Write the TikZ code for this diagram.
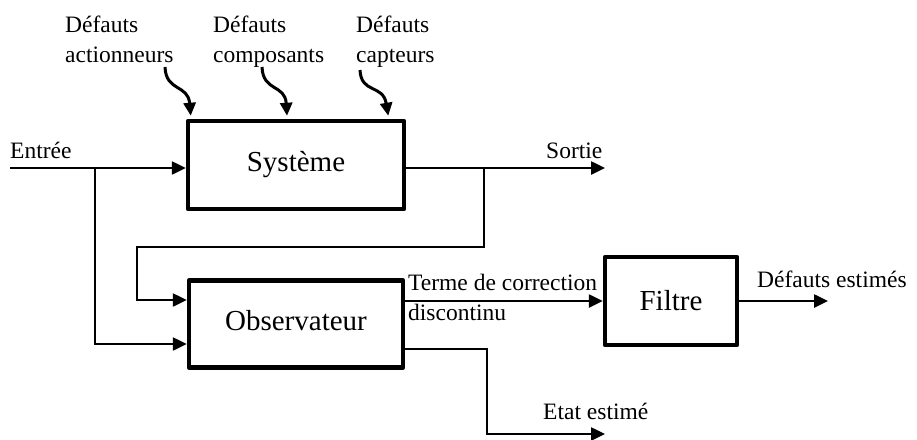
\documentclass[tikz,border=0pt]{standalone}
\usepackage{fontspec}
\setmainfont{Liberation Serif}
\usetikzlibrary{arrows.meta}
\begin{document}
\begin{tikzpicture}[x=1pt,y=-1pt,
  blockbox/.style={draw,line width=4.5pt,line join=round,inner sep=0pt,
    font=\fontsize{29}{34}\selectfont},
  conn/.style={line width=2.5pt},
  arr/.style={conn,-{Triangle[length=14pt,width=13pt]}},
  curvy/.style={line width=3pt,-{Triangle[length=13pt,width=12pt]}},
  lbl/.style={inner sep=0pt,font=\fontsize{23.5}{30}\selectfont,align=left}]
\useasboundingbox (0,0) rectangle (917,439);
% blocks
\node[blockbox,minimum width=216pt,minimum height=88pt] (sys) at (296,165) {Syst\`eme};
\node[blockbox,minimum width=214pt,minimum height=87pt] (obs) at (296,324) {\raisebox{7pt}{Observateur}};
\node[blockbox,minimum width=132pt,minimum height=88pt] (filt) at (671,301) {Filtre};
% top labels
\node[lbl,anchor=north west] (la) at (65,16) {D\'efauts\\actionneurs};
\node[lbl,anchor=north west] (lc) at (213,16) {D\'efauts\\composants};
\node[lbl,anchor=north west] (lk) at (356,16) {D\'efauts\\capteurs};
\coordinate (a1) at (165,67);
\coordinate (a2) at (262,67);
\coordinate (a3) at (360,70);
\draw[curvy] (a1) .. controls (166,92) and (188,84) .. ([xshift=5pt,yshift=3pt]sys.north west);
\draw[curvy] (a2) .. controls (263,92) and (285,84) .. ([xshift=-9pt,yshift=3pt]sys.north);
\draw[curvy] (a3) .. controls (361,94) and (383,84) .. ([xshift=-18pt,yshift=3pt]sys.north east);
% input
\node[lbl,anchor=base west] (lin) at (10,158) {Entr\'ee};
\coordinate (in) at (10,168);
\coordinate (b1) at (95,168);
\draw[arr] (in) -- (in -| sys.west);
\draw[arr] (b1) |- ([yshift=-20pt]obs.west);
% output
\coordinate (sout) at (605,168);
\coordinate (b2) at (484,168);
\node[lbl,anchor=base west] (lsort) at (546,158) {Sortie};
\draw[arr] (sout -| sys.east) -- (sout);
\coordinate (f1) at (484,247);
\coordinate (f2) at (137,247);
\draw[arr] (b2) -- (f1) -- (f2) |- ([yshift=24pt]obs.west);
% correction term
\draw[arr] (filt.west -| obs.east) -- (filt.west);
\node[lbl,anchor=north west] (lterm) at (408,274) {Terme de correction\\discontinu};
% filter output
\coordinate (fo) at (828,301);
\draw[arr] (filt.east) -- (fo);
\node[lbl,anchor=base west] (ldef) at (757,287) {D\'efauts estim\'es};
% state estimate
\coordinate (e1) at (487,349);
\coordinate (e2) at (605,434);
\draw[arr] (e1 -| obs.east) -- (e1) |- (e2);
\node[lbl,anchor=base west] (letat) at (543,419) {Etat estim\'e};
\end{tikzpicture}
\end{document}
